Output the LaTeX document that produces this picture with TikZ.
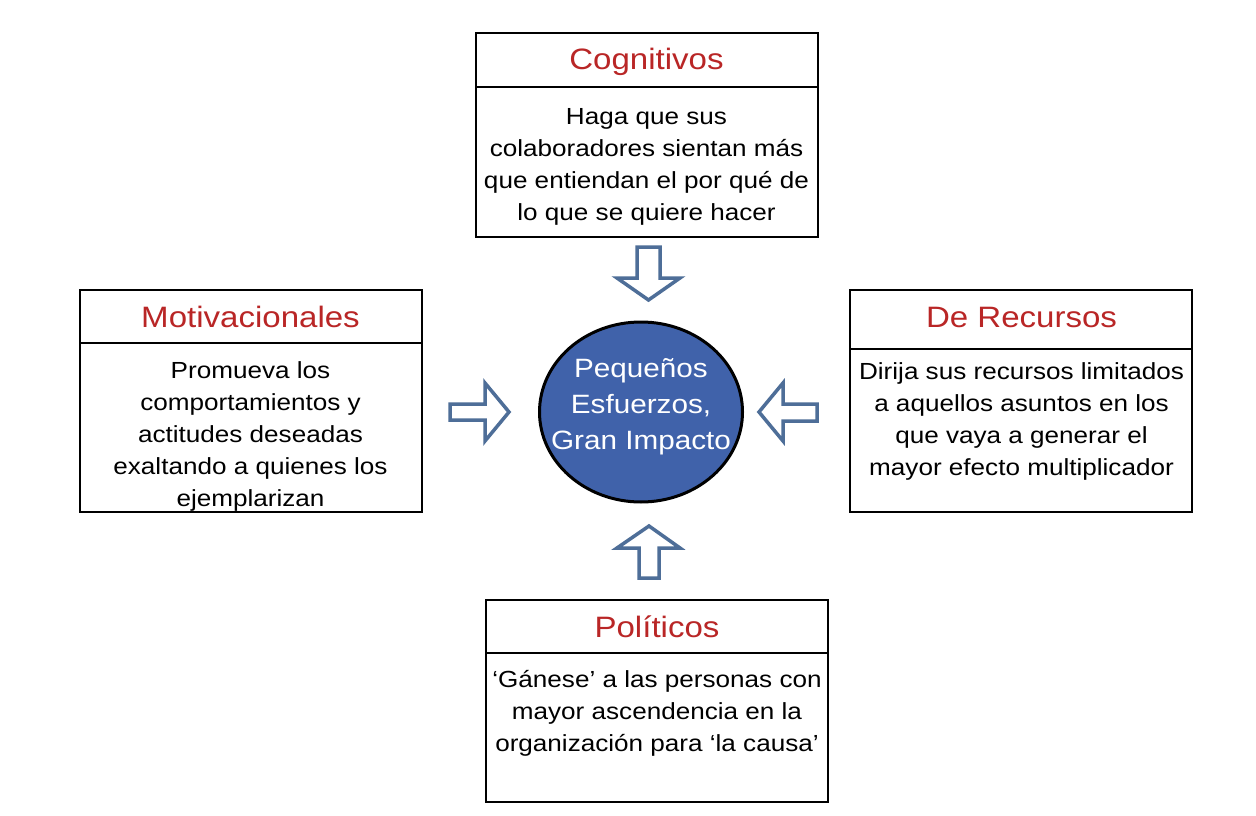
\documentclass[tikz,border=0pt]{standalone}
\usepackage{fontspec}
\setmainfont{Liberation Sans}[FakeStretch=1.12]
\usetikzlibrary{shapes.geometric}
\definecolor{titlered}{RGB}{185,38,38}
\definecolor{centerblue}{RGB}{64,98,170}
\definecolor{arrowblue}{RGB}{78,110,152}
\begin{document}
\begin{tikzpicture}[x=1pt,y=-1pt,
  panel/.style={draw=black,line width=2pt,rectangle,inner sep=0pt,outer sep=0pt,anchor=north west},
  titletext/.style={text=titlered,font=\fontsize{29.5pt}{34pt}\selectfont,anchor=base,inner sep=0pt},
  bodytext/.style={font=\fontsize{23.3pt}{32pt}\selectfont,align=center,anchor=north,inner sep=0pt},
  hubtext/.style={text=white,font=\fontsize{26.5pt}{36pt}\selectfont,align=center,anchor=north,inner sep=0pt},
  blockarrow/.style={draw=arrowblue,line width=3.5pt,fill=white,line join=miter},
  hub/.style={ellipse,draw=black,line width=3pt,fill=centerblue,minimum width=203pt,minimum height=180pt,inner sep=0pt}]
\useasboundingbox (0,0) rectangle (1256,816);
\fill[white] (0,0) rectangle (1256,816);

% Cognitivos
\node[panel,minimum width=342pt,minimum height=54pt] (cogT) at (476,33) {};
\node[panel,minimum width=342pt,minimum height=150pt] (cogB) at (476,87) {};
\node[titletext] (cogTitle) at (646.5,70) {Cognitivos};
\node[bodytext] (cogText) at (646.5,101.6) {\strut Haga que sus\\colaboradores sientan más\\que entiendan el por qué de\\lo que se quiere hacer};

% Motivacionales
\node[panel,minimum width=342pt,minimum height=53pt] (motT) at (80,290) {};
\node[panel,minimum width=342pt,minimum height=169pt] (motB) at (80,343) {};
\node[titletext] (motTitle) at (250.5,327) {Motivacionales};
\node[bodytext] (motText) at (250.5,355.6) {\strut Promueva los\\comportamientos y\\actitudes deseadas\\exaltando a quienes los\\ejemplarizan};

% De Recursos
\node[panel,minimum width=342pt,minimum height=59pt] (recT) at (850,290) {};
\node[panel,minimum width=342pt,minimum height=163pt] (recB) at (850,349) {};
\node[titletext] (recTitle) at (1021.5,327) {De Recursos};
\node[bodytext] (recText) at (1021.5,356.6) {\strut Dirija sus recursos limitados\\a aquellos asuntos en los\\que vaya a generar el\\mayor efecto multiplicador};

% Politicos
\node[panel,minimum width=342pt,minimum height=53pt] (polT) at (486,600) {};
\node[panel,minimum width=342pt,minimum height=149pt] (polB) at (486,653) {};
\node[titletext] (polTitle) at (657,637) {Políticos};
\node[bodytext] (polText) at (657,664.6) {\strut ‘Gánese’ a las personas con\\mayor ascendencia en la\\organización para ‘la causa’};

% Centre
\node[hub] (hub) at (641,412) {};
\node[hubtext] (hubText) at (641,351.8) {\strut Pequeños\\Esfuerzos,\\Gran Impacto};

% Block arrows
\draw[blockarrow] (637,247) -- (660,247) -- (660,278) -- (680,278) -- (648.5,300) -- (617,278) -- (637,278) -- cycle;
\draw[blockarrow] (639,578) -- (659,578) -- (659,548) -- (680,548) -- (649,526) -- (617,548) -- (639,548) -- cycle;
\draw[blockarrow] (450,404) -- (485,404) -- (485,383) -- (509,412) -- (485,441) -- (485,420) -- (450,420) -- cycle;
\draw[blockarrow] (817,404) -- (783,404) -- (783,383) -- (759,412) -- (783,441) -- (783,421) -- (817,421) -- cycle;
\end{tikzpicture}
\end{document}
